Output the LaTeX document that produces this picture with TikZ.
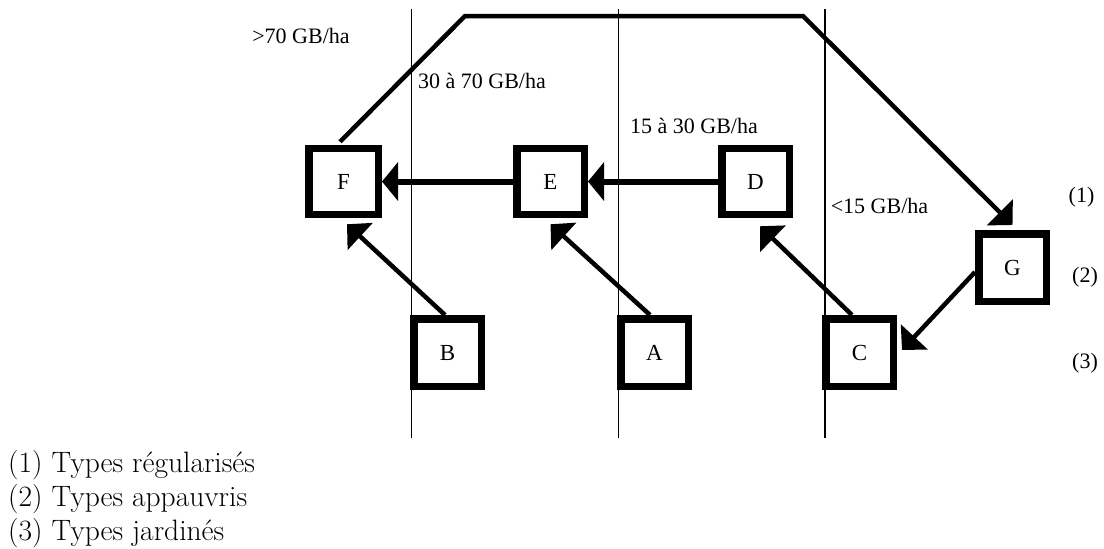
\documentclass[tikz,border=0pt]{standalone}
\usepackage{fontspec}
\newfontfamily\tnr{Liberation Serif}
\usetikzlibrary{arrows.meta,calc}
\begin{document}
\begin{tikzpicture}[x=1pt,y=-1pt,
  box/.style={draw, line width=7.5pt, minimum width=67.5pt, minimum height=66pt, inner sep=0pt, font=\tnr\fontsize{23}{27}\selectfont},
  lbl/.style={font=\tnr\fontsize{22}{26}\selectfont, inner sep=0pt},
  thickarrow/.style={line width=6pt, -{Triangle[length=16pt,width=38pt]}},
  thinarrow/.style={line width=4.5pt, line join=miter, -{Triangle[length=18pt,width=36pt]}},
  zone/.style={line width=1.3pt},
  legend/.style={font=\fontsize{29.5}{34}\selectfont, anchor=base west, inner sep=0pt}]
\useasboundingbox (0,0) rectangle (1104,549);

% zone separators
\draw[zone] (411.5,9) -- (411.5,438);
\draw[zone] (618.5,9) -- (618.5,438);
\draw[zone] (825,9) -- (825,438);

% boxes
\node[box, minimum width=69.5pt] (F) at (343.5,181.5) {F};
\node[box] (E) at (550.5,181.5) {E};
\node[box] (D) at (755.5,181.5) {D};
\node[box, minimum height=67.5pt] (G) at (1012.5,267.5) {G};
\node[box, minimum height=67.5pt] (B) at (447.5,352.5) {B};
\node[box, minimum height=67.5pt] (A) at (654.5,352.5) {A};
\node[box, minimum height=67.5pt] (C) at (859.5,352.5) {C};

% labels
\node[lbl] (l70) at (301,36) {>70 GB/ha};
\node[lbl] (l3070) at (482,81) {30 à 70 GB/ha};
\node[lbl] (l1530) at (694,126) {15 à 30 GB/ha};
\node[lbl] (l15) at (879.5,206) {<15 GB/ha};
\node[lbl] (r1) at (1081.5,197) {(1)};
\node[lbl] (r2) at (1085,277) {(2)};
\node[lbl] (r3) at (1085,363) {(3)};

% connectors
\draw[thickarrow] (D.west) -- (E.east);
\draw[thickarrow] (E.west) -- (F.east);
\draw[thinarrow] ([xshift=-2.5pt]B.north) -- ([xshift=3.5pt,yshift=-6pt]F.south);
\draw[thinarrow] ([xshift=-4.5pt]A.north) -- ([yshift=-6pt]E.south);
\draw[thinarrow] ([xshift=-7.5pt]C.north) -- ([xshift=4.5pt,yshift=-8pt]D.south);
\coordinate (k1) at (465,16);
\coordinate (k2) at (803,16);
\draw[thinarrow] ([xshift=-3.5pt,yshift=3pt]F.north) -- (k1) -- (k2) -- ([yshift=5pt]G.north);
\draw[thinarrow] ([yshift=-4.5pt]G.west) -- ([xshift=5pt,yshift=2.5pt]C.east);

% legend
\node[legend] (leg1) at (8,472) {(1) Types régularisés};
\node[legend] (leg2) at (8,506) {(2) Types appauvris};
\node[legend] (leg3) at (8,540) {(3) Types jardinés};
\end{tikzpicture}
\end{document}
